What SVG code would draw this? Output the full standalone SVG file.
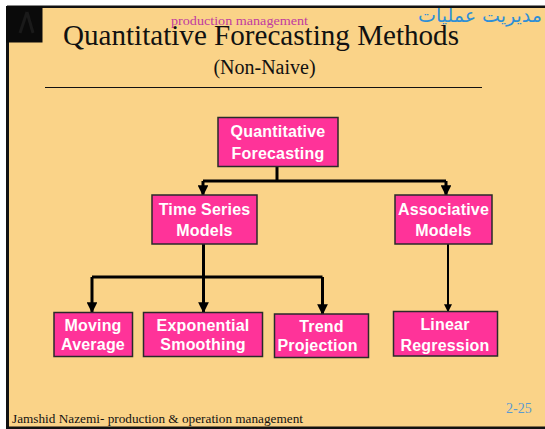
<svg xmlns="http://www.w3.org/2000/svg" width="545" height="429" viewBox="0 0 545 429">
  <style>
    .box { fill: #FF3399; stroke: #2a2a2a; stroke-width: 1.5; }
    .lbl { font-family: "Liberation Sans", Arial, sans-serif; font-weight: bold; font-size: 16px; fill: #ffffff; text-anchor: middle; letter-spacing: 0.2px; }
    .wire { fill: none; stroke: #000000; stroke-width: 3; }
    .wire-thin { fill: none; stroke: #000000; stroke-width: 2; }
    .serif { font-family: "Liberation Serif", "Times New Roman", serif; }
  </style>
  <defs>
    <marker id="arrow" viewBox="0 0 10 10" refX="9" refY="5" markerWidth="3.6" markerHeight="3.6" orient="auto" markerUnits="strokeWidth">
      <path d="M0,0 L10,5 L0,10 z" fill="#000000"/>
    </marker>
    <marker id="arrow-small" viewBox="0 0 10 10" refX="9" refY="5" markerWidth="4" markerHeight="4" orient="auto" markerUnits="strokeWidth">
      <path d="M0,0 L10,5 L0,10 z" fill="#000000"/>
    </marker>
  </defs>

  <!-- slide background and frame -->
  <rect x="0" y="0" width="545" height="429" fill="#ffffff"/>
  <rect x="7" y="6" width="538" height="423" fill="#FAD388"/>
  <rect x="7" y="5.5" width="538" height="2.5" fill="#111111"/>
  <rect x="6" y="6" width="3" height="423" fill="#111111"/>
  <rect x="6" y="426.5" width="539" height="2.5" fill="#111111"/>
  <!-- corner logo -->
  <g id="logo">
    <rect x="6" y="6" width="36.5" height="36.5" fill="#0a0a0a"/>
    <path d="M27,12 L20,33 M27,12 L33,33" stroke="#1a1a1a" stroke-width="3" fill="none"/>
  </g>

  <!-- header texts -->
  <text x="171" y="25" class="serif" font-size="12.5" fill="#C13BA0" textLength="137" lengthAdjust="spacingAndGlyphs">production management</text>
  <text x="418" y="22" font-family="'DejaVu Sans', 'Noto Sans', sans-serif" font-size="19" fill="#2E8FD6">مدیریت عملیات</text>
  <text x="63" y="45" class="serif" font-size="30" fill="#111111" textLength="396" lengthAdjust="spacingAndGlyphs">Quantitative Forecasting Methods</text>
  <text x="264.5" y="74" class="serif" font-size="20" fill="#111111" text-anchor="middle">(Non-Naive)</text>
  <line x1="45" y1="87.5" x2="482" y2="87.5" stroke="#111111" stroke-width="1"/>

  <!-- connectors -->
  <g id="connectors">
    <path class="wire" d="M277,167 V181"/>
    <path class="wire" d="M203,181 H446"/>
    <path class="wire" d="M203,181 V195" marker-end="url(#arrow)"/>
    <path class="wire" d="M446,181 V195" marker-end="url(#arrow)"/>
    <path class="wire" d="M203.5,244 V277"/>
    <path class="wire" d="M92,277 H322.5"/>
    <path class="wire" d="M92,277 V312" marker-end="url(#arrow)"/>
    <path class="wire" d="M203.5,277 V312" marker-end="url(#arrow)"/>
    <path class="wire" d="M322.5,277 V314" marker-end="url(#arrow)"/>
    <path class="wire-thin" d="M448,244 V311.5" marker-end="url(#arrow-small)"/>
  </g>

  <!-- nodes -->
  <g id="quantitative-forecasting">
    <rect class="box" x="218" y="117.5" width="120" height="49"/>
    <text class="lbl" x="278" y="137">Quantitative</text>
    <text class="lbl" x="278" y="158.5">Forecasting</text>
  </g>
  <g id="time-series-models">
    <rect class="box" x="152" y="195" width="105" height="49"/>
    <text class="lbl" x="204.5" y="215">Time Series</text>
    <text class="lbl" x="204.5" y="236">Models</text>
  </g>
  <g id="associative-models">
    <rect class="box" x="395" y="195" width="97" height="49"/>
    <text class="lbl" x="443.5" y="215">Associative</text>
    <text class="lbl" x="443.5" y="236">Models</text>
  </g>
  <g id="moving-average">
    <rect class="box" x="54" y="312.5" width="78.5" height="44"/>
    <text class="lbl" x="93" y="330.5">Moving</text>
    <text class="lbl" x="93" y="350">Average</text>
  </g>
  <g id="exponential-smoothing">
    <rect class="box" x="143.5" y="312.5" width="119" height="44"/>
    <text class="lbl" x="203" y="330.5">Exponential</text>
    <text class="lbl" x="203" y="350">Smoothing</text>
  </g>
  <g id="trend-projection">
    <rect class="box" x="274.5" y="314" width="94" height="43.5"/>
    <text class="lbl" x="321.5" y="331.5">Trend</text>
    <text class="lbl" x="317.5" y="351">Projection</text>
  </g>
  <g id="linear-regression">
    <rect class="box" x="393.5" y="311.5" width="104" height="44.5"/>
    <text class="lbl" x="445" y="329.5">Linear</text>
    <text class="lbl" x="445" y="351">Regression</text>
  </g>

  <!-- footer -->
  <text x="12" y="423" class="serif" font-size="13" fill="#111111" textLength="291" lengthAdjust="spacingAndGlyphs">Jamshid Nazemi- production &amp; operation management</text>
  <text x="506" y="413" class="serif" font-size="14" fill="#5A9AD0">2-25</text>
</svg>
